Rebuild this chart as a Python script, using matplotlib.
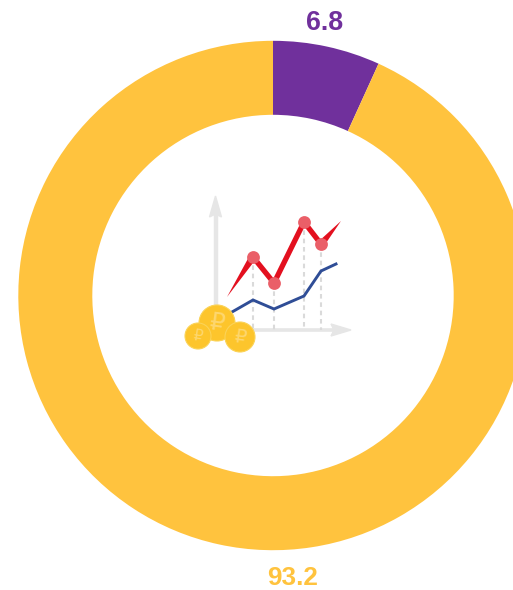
import matplotlib
matplotlib.use("Agg")
import matplotlib.pyplot as plt
from matplotlib.patches import Polygon, Circle

plt.rcParams['font.family'] = ['Liberation Sans', 'DejaVu Sans']

# Data
categories = ["A", "B"]
values = [6.8, 93.2]
labels = ["6.8", "93.2"]
colors = ["#70309c", "#ffc33e"]

# Decorative icon (pixel coordinates of the picture)
red_x = [253, 274, 304, 321]
red_y = [257, 283, 222, 244]
blue_x = [232, 253, 274, 304, 321, 336]
blue_y = [312, 300, 309, 296, 271, 264]
coins = [(217, 323, 18, 24), (198, 336, 13, 15), (240, 337, 15, 19)]

W, H = 513, 590
fig = plt.figure(figsize=(W / 100, H / 100), dpi=100)
ax = fig.add_axes([0, 0, 1, 1])
ax.set_xlim(0, W)
ax.set_ylim(H, 0)
ax.axis("off")

# Donut: y axis inverted, so draw angles mirrored
ax.pie(values, colors=colors, center=(273, 295.5), radius=254.7, startangle=-90,
       counterclock=True, frame=True,
       wedgeprops=dict(width=74, linewidth=0))
ax.set_xlim(0, W)
ax.set_ylim(H, 0)
ax.set_aspect("equal")
ax.axis("off")

ax.text(325, 23.5, labels[0], color=colors[0], fontsize=19.2, fontweight="bold",
        ha="center", va="center")
ax.text(293, 577.8, labels[1], color=colors[1], fontsize=18.8, fontweight="bold",
        ha="center", va="center")

# Icon axes
grey = "#e6e6e6"
ax.plot([215.5, 215.5], [210, 330], color=grey, lw=3.2, solid_capstyle="butt", zorder=3)
ax.plot([215, 335], [330, 330], color=grey, lw=2.6, solid_capstyle="butt", zorder=3)
ax.add_patch(Polygon([(215.5, 196), (221.5, 217), (215.5, 214), (209.5, 217)], color=grey, zorder=3))
ax.add_patch(Polygon([(351, 330), (331, 324), (334, 330), (331, 336)], color=grey, zorder=3))

# Dashed drop lines
for x, y in zip(red_x, red_y):
    ax.plot([x, x], [y, 330], color="#dadada", lw=1.5, ls=(0, (2.2, 1.8)), zorder=3)

# Blue line
ax.plot(blue_x, blue_y, color="#2f4d96", lw=2.1, solid_joinstyle="miter", zorder=4)

# Red line with tapered ends
red = "#e3101f"
ax.plot(red_x, red_y, color=red, lw=3.8, solid_joinstyle="miter", zorder=5)
ax.add_patch(Polygon([(227, 297), (red_x[0] - 3, red_y[0] - 2), (red_x[0] + 3, red_y[0] + 2)],
                     color=red, lw=0, zorder=5))
ax.add_patch(Polygon([(341, 221), (red_x[3] - 3, red_y[3] - 2), (red_x[3] + 3, red_y[3] + 2)],
                     color=red, lw=0, zorder=5))
ax.scatter(red_x, red_y, s=85, color="#ea5f68", linewidths=0, zorder=6)

# Coins
for cx, cy, r, fs in coins:
    ax.add_patch(Circle((cx, cy), r, facecolor="#fdc52c", edgecolor="#fbd357", lw=0.8, zorder=7))
    ax.text(cx, cy, "\u20bd", color="#fed76f", fontsize=fs * 0.72, ha="center", va="center",
            rotation=-8, family="DejaVu Sans", zorder=8)

fig.savefig("out.png", dpi=100)
